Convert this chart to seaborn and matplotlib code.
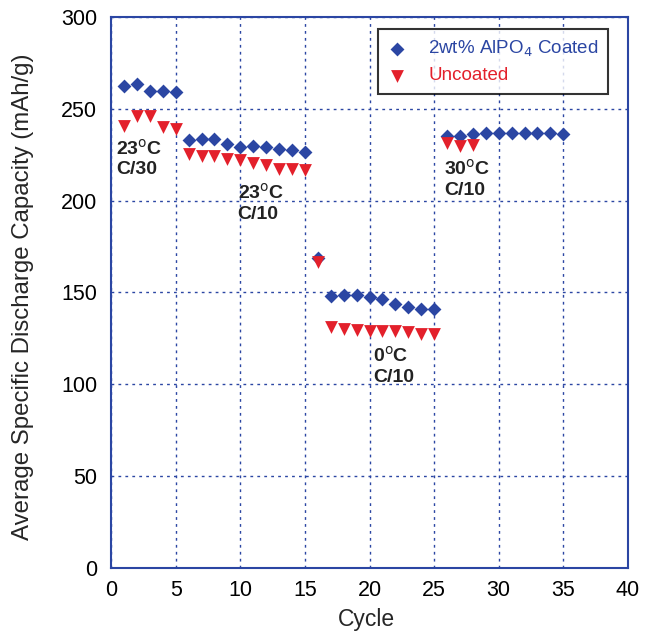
import numpy as np
import pandas as pd
import matplotlib
matplotlib.use('Agg')
import matplotlib.pyplot as plt
import seaborn as sns

# cycle numbers and capacities (mAh/g)
coated_cycle = list(range(1, 36))
coated_cap = [262.6, 263.5, 259.7, 259.7, 259.0,
              233.3, 233.5, 233.5, 230.8, 229.0, 229.9, 229.3, 228.1, 227.5, 226.6,
              168.6,
              148.2, 148.4, 148.4, 147.5, 146.4, 143.7, 142.2, 141.0, 141.0,
              235.3, 235.3, 236.4, 237.0, 237.0, 236.8, 236.8, 236.8, 236.6, 236.2]

uncoated_cycle = list(range(1, 29))
uncoated_cap = [240.6, 246.0, 246.0, 240.0, 239.3,
                225.2, 224.6, 224.5, 222.8, 222.0, 220.5, 219.4, 217.3, 217.3, 216.5,
                166.4,
                131.0, 130.3, 129.7, 129.0, 129.0, 128.9, 128.7, 127.6, 127.2,
                231.5, 230.0, 230.3]

series_names = ['2wt% AlPO$_4$ Coated', 'Uncoated']
blue = '#2b46a3'
red = '#e3202b'

coated = pd.DataFrame({'Cycle': coated_cycle, 'Capacity': coated_cap})
uncoated = pd.DataFrame({'Cycle': uncoated_cycle, 'Capacity': uncoated_cap})

sns.set_style('white')
plt.rcParams['font.family'] = ['Liberation Sans', 'DejaVu Sans']

fig = plt.figure(figsize=(6.46, 6.33), dpi=100)
ax = fig.add_axes([0.172, 0.103, 0.800, 0.870])

sns.scatterplot(data=coated, x='Cycle', y='Capacity', color=blue, marker='D',
                s=50, linewidth=0, ax=ax, zorder=3, label=series_names[0])
sns.scatterplot(data=uncoated, x='Cycle', y='Capacity', color=red, marker='v',
                s=85, linewidth=0, ax=ax, zorder=3, label=series_names[1])

ax.set_xlim(0, 40)
ax.set_ylim(0, 300)
ax.set_xticks(np.arange(0, 41, 5))
ax.set_yticks(np.arange(0, 301, 50))
ax.grid(True, color=blue, linestyle=(0, (2, 3)), linewidth=1.0)
for sp in ax.spines.values():
    sp.set_color(blue)
    sp.set_linewidth(1.5)
ax.tick_params(direction='in', length=6, color=blue, labelsize=15.5, labelcolor='black')
ax.tick_params(axis='x', pad=8.5)
ax.tick_params(axis='y', pad=10)
ax.set_xlabel('Cycle', fontsize=16.5)
ax.set_ylabel('Average Specific Discharge Capacity (mAh/g)', fontsize=17.3)
ax.xaxis.set_label_coords(0.495, -0.073)
ax.yaxis.set_label_coords(-0.15, 0.492)

leg = ax.legend(loc='upper right', bbox_to_anchor=(0.98, 0.995), fontsize=13.5,
                frameon=True, fancybox=False, edgecolor='black', markerscale=1.0,
                handlelength=1.0, handletextpad=1.2, borderpad=0.5, labelspacing=0.45)
leg.get_frame().set_linewidth(1.5)
for txt, col in zip(leg.get_texts(), [blue, red]):
    txt.set_color(col)

deg = r'$^{\mathrm{o}}$'
ann = [(0.4, 234, '23' + deg + 'C\nC/30'),
       (9.8, 210, '23' + deg + 'C\nC/10'),
       (20.3, 121, '0' + deg + 'C\nC/10'),
       (25.8, 223, '30' + deg + 'C\nC/10')]
for x, y, t in ann:
    ax.text(x, y, t, fontsize=14, fontweight='bold', va='top', ha='left',
            linespacing=1.25, color='#222222')

fig.savefig('out.png', dpi=100)
